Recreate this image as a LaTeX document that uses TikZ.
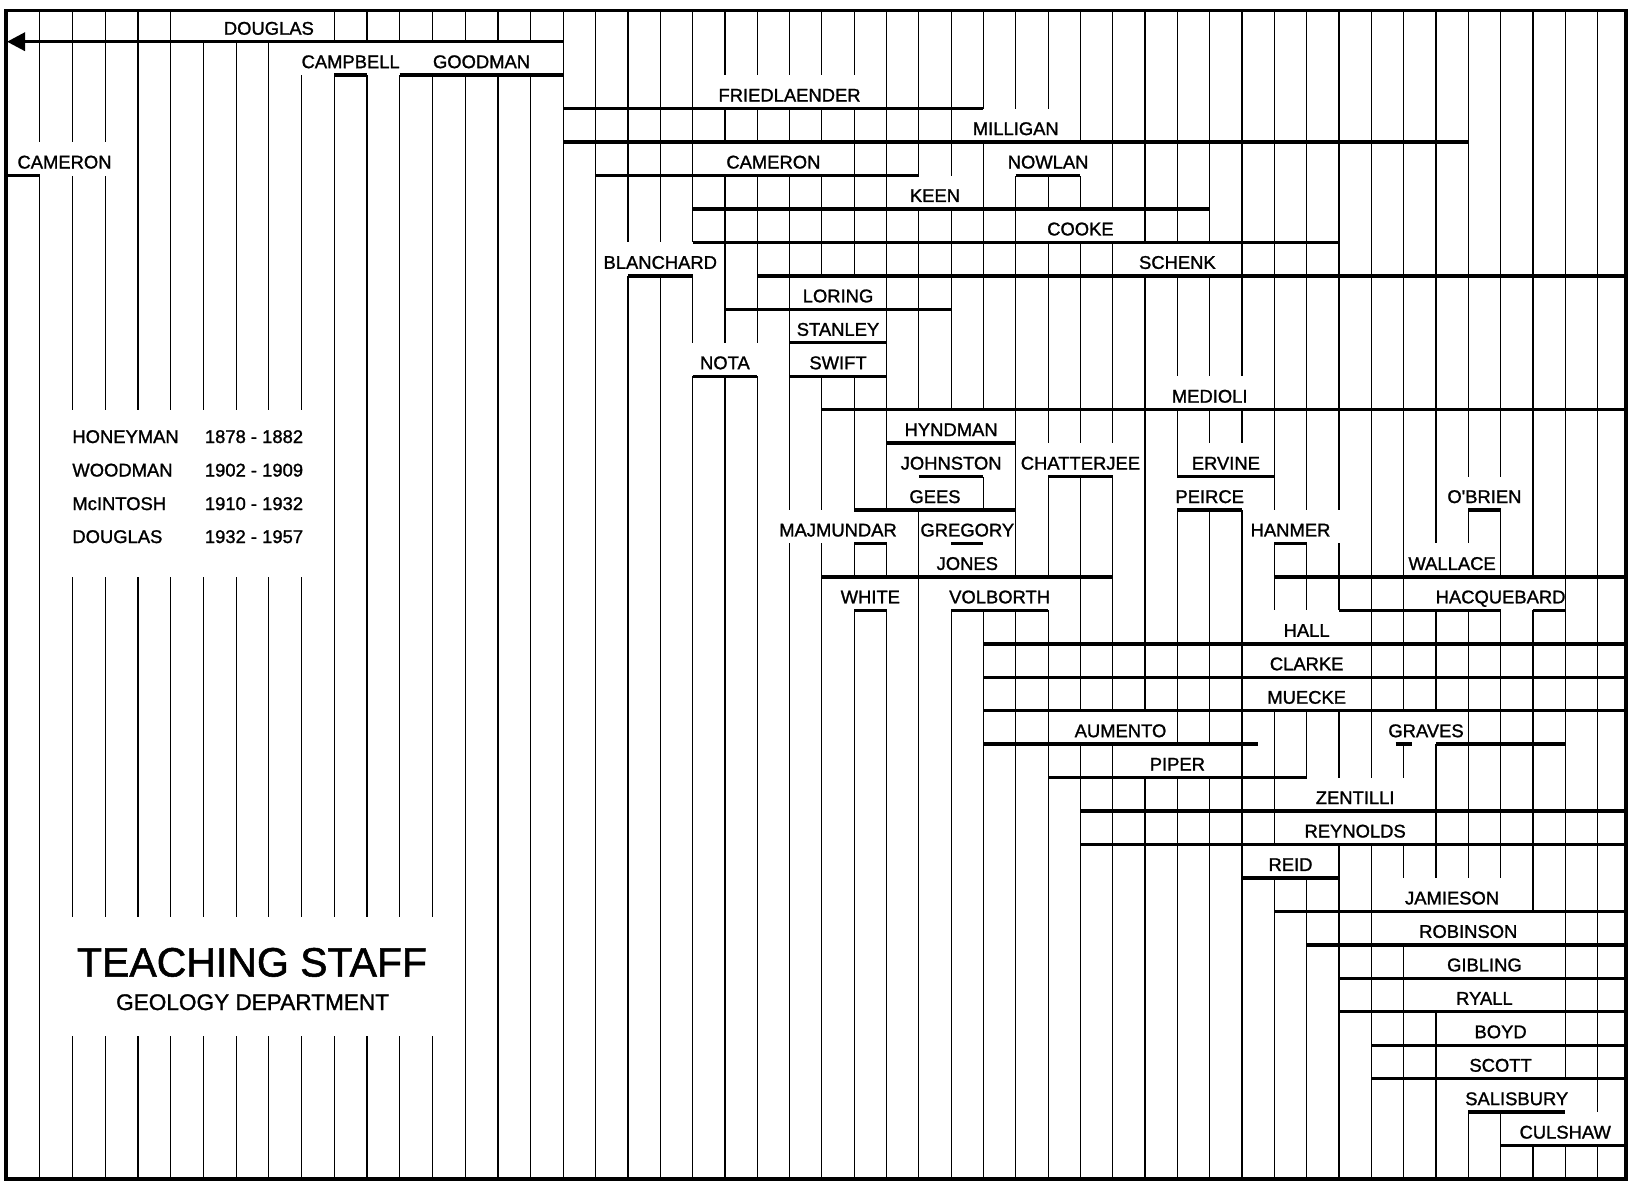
\documentclass[tikz,border=0pt]{standalone}
\usepackage{fontspec}
\setmainfont{Liberation Sans}
\newfontfamily\labfont{Liberation Sans}[FakeBold=1.3]
\usetikzlibrary{arrows.meta}
\begin{document}
\begin{tikzpicture}[x=0.5pt,y=-0.5pt,
  declare function={cx(\i)=(\i<17.5)*(7.1+32.72*\i)+(\i>17.5)*(563.3+32.32*(\i-17)); ry(\k)=41.7+33.45*\k;},
  gridline/.style={line width=0.6pt},
  bar/.style={line width=1.7pt},
  frame/.style={line width=1.6pt},
  lab/.style={font=\labfont\fontsize{9.2}{11}\selectfont, inner sep=0pt, anchor=base},
  legtxt/.style={font=\labfont\fontsize{9.2}{11}\selectfont, inner sep=0pt, anchor=base west},
  mask/.style={fill=white, draw=none}]
\useasboundingbox (0,0) rectangle (1637,1185);
% vertical year lines
\foreach \i in {1,...,49} \draw[gridline] ({cx(\i)},10.5) -- ({cx(\i)},1179);
% white gaps behind labels
\foreach \k/\a/\b in {0/6/9,1/9/16,2/22/26,3/30/32,4/1/3,4/22/25,4/31/33,5/28/29,6/32/34,
  7/19/21,7/35/37,8/25/26,9/25/26,10/21/23,10/25/26,11/36/38,12/28/30,
  13/28/30,13/32/34,13/37/38,14/28/29,14/36/38,14/45/46,15/24/27,15/29/30,15/39/41,
  16/29/30,16/44/45,17/26/27,17/29/32,17/44/47,18/39/41,19/39/41,20/39/41,
  21/33/35,21/43/44,22/35/37,23/40/43,24/40/43,25/39/40,26/43/46,27/43/47,
  28/44/47,29/44/47,30/45/47,31/45/47,32/45/48,33/47/49}
  \fill[mask] ({cx(\a)-10},{ry(\k-1)}) rectangle ({cx(\b)+10},{ry(\k)});
\fill[mask] ({cx(2)-10},{ry(11)}) rectangle ({cx(9)+10},{ry(16)});
\fill[mask] ({cx(2)-10},917) rectangle ({cx(13)+10},1036);
% tenure bars
\foreach \k/\a/\b in {1/10/11,1/12/17,2/17/30,3/17/45,4/0/1,4/18/28,4/31/33,5/21/37,6/21/41,
  7/19/21,7/23/49.9,8/22/29,9/24/27,10/21/23,10/24/27,11/25/49.9,12/27/31,
  13/28/30,13/32/34,13/36/39,14/26/31,14/36/38,14/45/46,15/26/27,15/29/30,15/39/40,
  16/25/34,16/39/49.9,17/26/27,17/29/32,17/41/46,17/47/48,18/30/49.9,19/30/49.9,20/30/49.9,
  21/30/38.5,21/42.75/43.25,21/44/48,22/32/40,23/33/49.9,24/33/49.9,25/38/41,
  26/39/49.9,27/40/49.9,28/41/49.9,29/41/49.9,30/42/49.9,31/42/49.9,32/45/48,33/46/49.9}
  \draw[bar] ({cx(\a)},{ry(\k)}) -- ({cx(\b)},{ry(\k)});
\coordinate (dstart) at ({cx(17)},{ry(0)});
\coordinate (dend) at (7,{ry(0)});
\draw[bar,-{Triangle[length=9pt,width=9pt]}] (dstart) -- (dend);
% labels
\foreach \nm/\xx/\k/\t in {douglas/cx(8)/0/DOUGLAS, campbell/cx(10.5)/1/CAMPBELL, goodman/cx(14.5)/1/GOODMAN,
  friedlaender/cx(24)/2/FRIEDLAENDER, milligan/cx(31)/3/MILLIGAN,
  camerona/64.5/4/CAMERON, cameronb/cx(23.5)/4/CAMERON, nowlan/cx(32)/4/NOWLAN,
  keen/cx(28.5)/5/KEEN, cooke/cx(33)/6/COOKE, blanchard/cx(20)/7/BLANCHARD, schenk/cx(36)/7/SCHENK,
  loring/cx(25.5)/8/LORING, stanley/cx(25.5)/9/STANLEY, nota/cx(22)/10/NOTA, swift/cx(25.5)/10/SWIFT,
  medioli/cx(37)/11/MEDIOLI, hyndman/cx(29)/12/HYNDMAN,
  johnston/cx(29)/13/JOHNSTON, chatterjee/cx(33)/13/CHATTERJEE, ervine/cx(37.5)/13/ERVINE,
  gees/cx(28.5)/14/GEES, peirce/cx(37)/14/PEIRCE, obrien/cx(45.5)/14/O'BRIEN,
  majmundar/cx(25.5)/15/MAJMUNDAR, gregory/cx(29.5)/15/GREGORY, hanmer/cx(39.5)/15/HANMER,
  jones/cx(29.5)/16/JONES, wallace/cx(44.5)/16/WALLACE,
  white/cx(26.5)/17/WHITE, volborth/cx(30.5)/17/VOLBORTH, hacquebard/cx(46)/17/HACQUEBARD,
  hall/cx(40)/18/HALL, clarke/cx(40)/19/CLARKE, muecke/cx(40)/20/MUECKE,
  aumento/1120.5/21/AUMENTO, graves/1426/21/GRAVES, piper/cx(36)/22/PIPER,
  zentilli/cx(41.5)/23/ZENTILLI, reynolds/cx(41.5)/24/REYNOLDS, reid/cx(39.5)/25/REID,
  jamieson/cx(44.5)/26/JAMIESON, robinson/cx(45)/27/ROBINSON, gibling/cx(45.5)/28/GIBLING,
  ryall/cx(45.5)/29/RYALL, boyd/cx(46)/30/BOYD, scott/cx(46)/31/SCOTT,
  salisbury/cx(46.5)/32/SALISBURY, culshaw/cx(48)/33/CULSHAW}
  \node[lab] (\nm) at ({\xx},{ry(\k)-7}) {\t};
% legend of heads
\foreach \nm/\yy/\nmt/\yrs in {honeyman/443/HONEYMAN/1878 - 1882, woodman/476.5/WOODMAN/1902 - 1909,
  mcintosh/510/McINTOSH/1910 - 1932, douglash/543/DOUGLAS/1932 - 1957}{
  \node[legtxt] (\nm) at (72,\yy) {\nmt};
  \node[legtxt] (\nm-y) at (204.5,\yy) {\yrs};
}
% title
\node[inner sep=0pt, anchor=base, font=\labfont\fontsize{20.5}{24}\selectfont] (title) at (252,976.5) {TEACHING STAFF};
\node[inner sep=0pt, anchor=base, font=\labfont\fontsize{11.3}{13}\selectfont] (subtitle) at (252.6,1010) {GEOLOGY DEPARTMENT};
% frame
\draw[frame] (6,10.5) rectangle (1626,1179);
\end{tikzpicture}
\end{document}
